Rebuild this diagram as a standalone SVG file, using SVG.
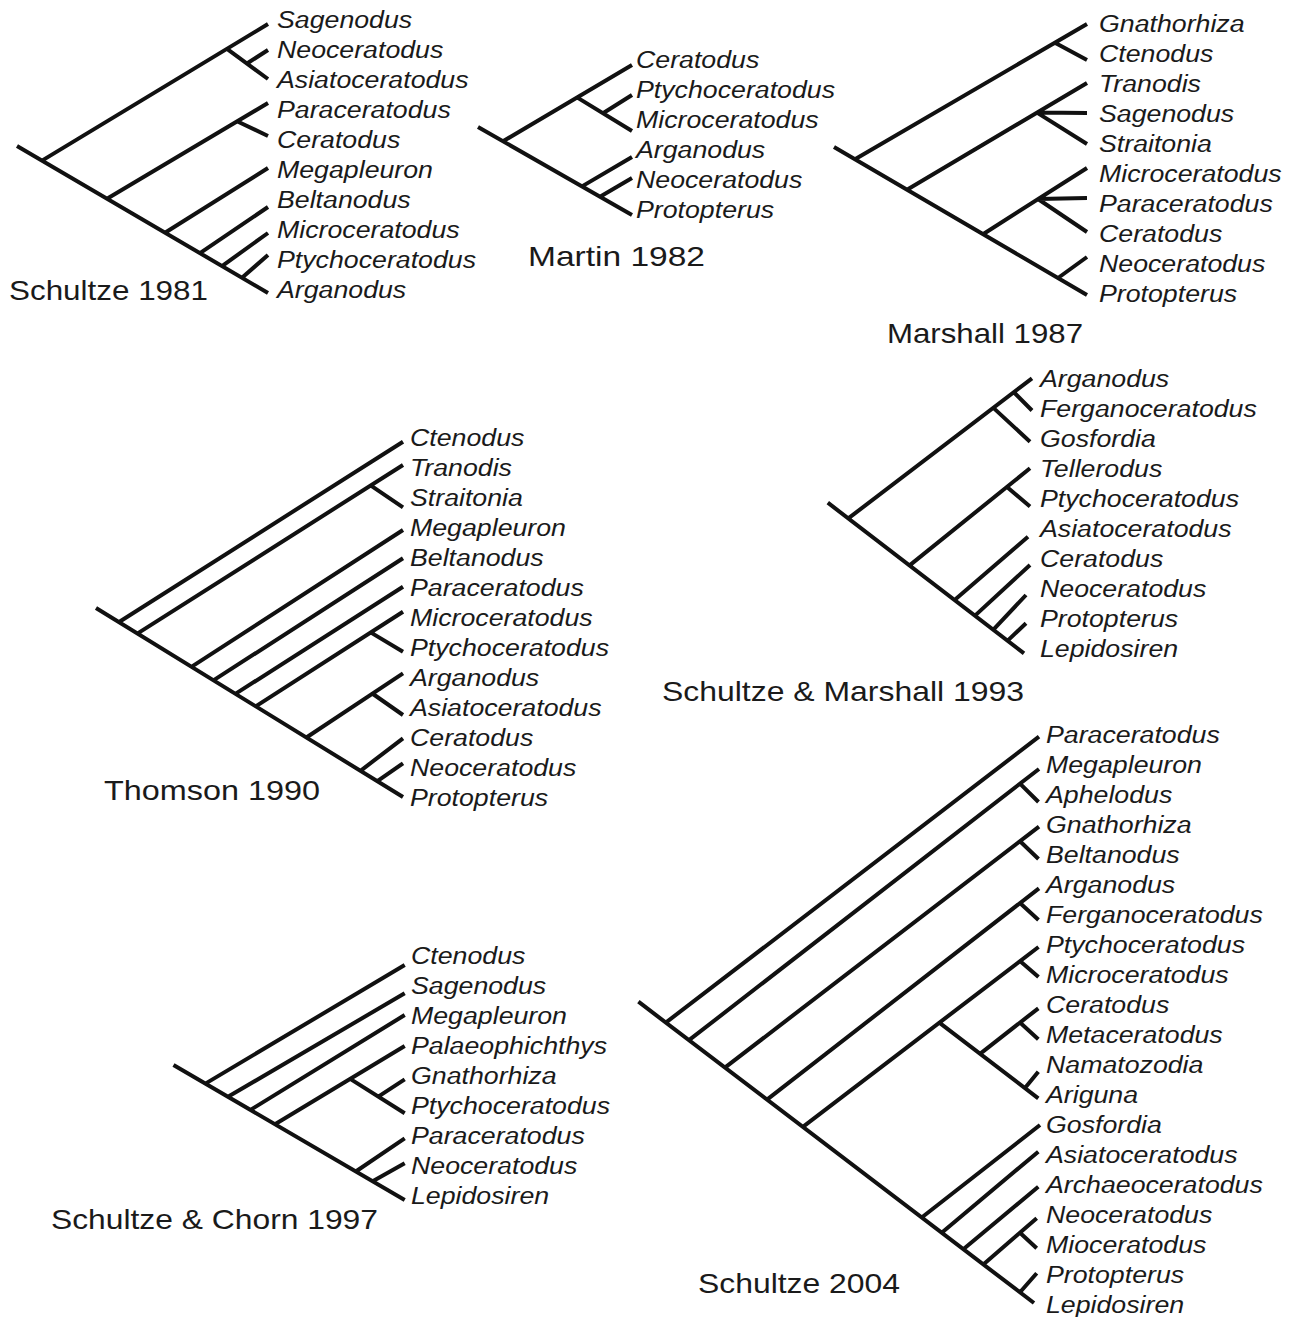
<svg xmlns="http://www.w3.org/2000/svg" width="1291" height="1317" viewBox="0 0 1291 1317">
<style>
.e{fill:none;stroke:#111;stroke-width:4;stroke-linecap:butt;stroke-linejoin:round}
.lb text{font-family:"Liberation Sans",Arial,sans-serif;font-style:italic;font-size:24.3px;fill:#1a1a1a}
.ti{font-family:"Liberation Sans",Arial,sans-serif;font-size:28px;fill:#1a1a1a}
</style>
<rect width="1291" height="1317" fill="#fff"/>

<g id="tree-schultze-1981">
<g id="edges-schultze-1981">
<path class="e" d="M17,146 L268,293 M42,160.6 L268,24 M227,48.8 L268,79 M247,63.5 L268,50 M107,198.7 L268,103 M237,121.2 L268,136 M165,232.7 L268,168 M200,253.2 L268,207 M222,266.1 L268,233 M242,277.8 L268,255"/>
</g>
<g class="lb" transform="translate(277 0) scale(1.1 1)">
<text y="28">Sagenodus</text><text y="58">Neoceratodus</text><text y="88">Asiatoceratodus</text><text y="118">Paraceratodus</text><text y="148">Ceratodus</text><text y="178">Megapleuron</text><text y="208">Beltanodus</text><text y="238">Microceratodus</text><text y="268">Ptychoceratodus</text><text y="298">Arganodus</text>
</g>
<text class="ti" x="9" y="300" textLength="199" lengthAdjust="spacingAndGlyphs">Schultze 1981</text>
</g>

<g id="tree-martin-1982">
<g id="edges-martin-1982">
<path class="e" d="M478,127 L632,215 M503,141.3 L632,65 M577,97.4 L632,131 M603,113.3 L632,95 M582,186.4 L632,157 M600,196.7 L632,178"/>
</g>
<g class="lb" transform="translate(636 0) scale(1.1 1)">
<text y="68">Ceratodus</text><text y="98">Ptychoceratodus</text><text y="128">Microceratodus</text><text y="158">Arganodus</text><text y="188">Neoceratodus</text><text y="218">Protopterus</text>
</g>
<text class="ti" x="528" y="266" textLength="177" lengthAdjust="spacingAndGlyphs">Martin 1982</text>
</g>

<g id="tree-marshall-1987">
<g id="edges-marshall-1987">
<path class="e" d="M834,147 L1087,295 M855,159.3 L1087,24 M1055,42.7 L1087,60 M907,189.7 L1087,83 M1037,112.6 L1087,113 M1037,112.6 L1087,144 M983,234.2 L1087,168 M1038,199 L1087,198 M1038,199 L1087,232 M1058,278 L1087,257"/>
</g>
<g class="lb" transform="translate(1099 0) scale(1.1 1)">
<text y="32">Gnathorhiza</text><text y="62">Ctenodus</text><text y="92">Tranodis</text><text y="122">Sagenodus</text><text y="152">Straitonia</text><text y="182">Microceratodus</text><text y="212">Paraceratodus</text><text y="242">Ceratodus</text><text y="272">Neoceratodus</text><text y="302">Protopterus</text>
</g>
<text class="ti" x="887" y="343" textLength="196" lengthAdjust="spacingAndGlyphs">Marshall 1987</text>
</g>

<g id="tree-thomson-1990">
<g id="edges-thomson-1990">
<path class="e" d="M96,608 L403,797 M118.7,622.2 L403,441.7 M137.3,633.6 L403,465 M370.6,485.4 L403,507.3 M191.4,666.9 L403,530 M213.4,680.4 L403,558.3 M235.4,693.9 L403,586.7 M255.7,706.4 L403,611.7 M370.6,632.4 L403,651.7 M306.4,737.5 L403,673.3 M372.3,693.5 L403,715 M360.5,770.8 L403,738.3 M377.4,781.2 L403,763.3"/>
</g>
<g class="lb" transform="translate(410 0) scale(1.1 1)">
<text y="446">Ctenodus</text><text y="476">Tranodis</text><text y="506">Straitonia</text><text y="536">Megapleuron</text><text y="566">Beltanodus</text><text y="596">Paraceratodus</text><text y="626">Microceratodus</text><text y="656">Ptychoceratodus</text><text y="686">Arganodus</text><text y="716">Asiatoceratodus</text><text y="746">Ceratodus</text><text y="776">Neoceratodus</text><text y="806">Protopterus</text>
</g>
<text class="ti" x="104" y="800" textLength="216" lengthAdjust="spacingAndGlyphs">Thomson 1990</text>
</g>

<g id="tree-schultze-marshall-1993">
<g id="edges-schultze-marshall-1993">
<path class="e" d="M827.8,502.7 L1024,653.3 M848.3,518.4 L1032,378.3 M993.4,407.9 L1030,441.7 M1013.9,392.3 L1032,410.5 M909.6,565.4 L1030,468.3 M1007,487 L1030,506.5 M954.6,600 L1028,536.7 M975,615.6 L1030,565 M993.4,629.6 L1026,595 M1007.7,640.6 L1026,623.3"/>
</g>
<g class="lb" transform="translate(1040 0) scale(1.1 1)">
<text y="387">Arganodus</text><text y="417">Ferganoceratodus</text><text y="447">Gosfordia</text><text y="477">Tellerodus</text><text y="507">Ptychoceratodus</text><text y="537">Asiatoceratodus</text><text y="567">Ceratodus</text><text y="597">Neoceratodus</text><text y="627">Protopterus</text><text y="657">Lepidosiren</text>
</g>
<text class="ti" x="662" y="701" textLength="362" lengthAdjust="spacingAndGlyphs">Schultze &amp; Marshall 1993</text>
</g>

<g id="tree-schultze-chorn-1997">
<g id="edges-schultze-chorn-1997">
<path class="e" d="M173.5,1065 L404.7,1200 M205.4,1083.6 L404.7,965 M228,1096.8 L404.7,993.3 M250.5,1109.9 L404.7,1015 M275,1124.3 L404.7,1046 M350.2,1078.9 L404.7,1113.3 M378.3,1096.6 L404.7,1079.3 M355.8,1171.5 L404.7,1138.3 M372.7,1181.3 L404.7,1163.3"/>
</g>
<g class="lb" transform="translate(411 0) scale(1.1 1)">
<text y="964">Ctenodus</text><text y="994">Sagenodus</text><text y="1024">Megapleuron</text><text y="1054">Palaeophichthys</text><text y="1084">Gnathorhiza</text><text y="1114">Ptychoceratodus</text><text y="1144">Paraceratodus</text><text y="1174">Neoceratodus</text><text y="1204">Lepidosiren</text>
</g>
<text class="ti" x="51" y="1229" textLength="327" lengthAdjust="spacingAndGlyphs">Schultze &amp; Chorn 1997</text>
</g>

<g id="tree-schultze-2004">
<g id="edges-schultze-2004">
<path class="e" d="M638.4,1001.7 L1034,1303 M665.8,1022.6 L1039,736.7 M689,1040.2 L1039,769 M1020,783.7 L1038.5,802 M724.9,1067.6 L1039,826.7 M1020,841.3 L1038.5,859 M767,1099.6 L1039,888.3 M1020,903.1 L1038.5,920 M802.9,1126.9 L1038.5,947 M1020,961.1 L1038.5,977 M939.3,1022.7 L1038.3,1098.3 M980,1053.8 L1038.3,1008.3 M1020,1022.6 L1038.3,1039.3 M1025,1088.1 L1038.3,1071.7 M921.7,1217.5 L1040,1125 M941.7,1232.7 L1038.3,1151.7 M963.3,1249.2 L1038.3,1186.7 M983.3,1264.4 L1036.7,1218.3 M1020,1232.7 L1036.7,1248.3 M1020,1292.3 L1036.7,1273.3"/>
</g>
<g class="lb" transform="translate(1046 0) scale(1.1 1)">
<text y="743">Paraceratodus</text><text y="773">Megapleuron</text><text y="803">Aphelodus</text><text y="833">Gnathorhiza</text><text y="863">Beltanodus</text><text y="893">Arganodus</text><text y="923">Ferganoceratodus</text><text y="953">Ptychoceratodus</text><text y="983">Microceratodus</text><text y="1013">Ceratodus</text><text y="1043">Metaceratodus</text><text y="1073">Namatozodia</text><text y="1103">Ariguna</text><text y="1133">Gosfordia</text><text y="1163">Asiatoceratodus</text><text y="1193">Archaeoceratodus</text><text y="1223">Neoceratodus</text><text y="1253">Mioceratodus</text><text y="1283">Protopterus</text><text y="1313">Lepidosiren</text>
</g>
<text class="ti" x="698" y="1293" textLength="202" lengthAdjust="spacingAndGlyphs">Schultze 2004</text>
</g>
</svg>
